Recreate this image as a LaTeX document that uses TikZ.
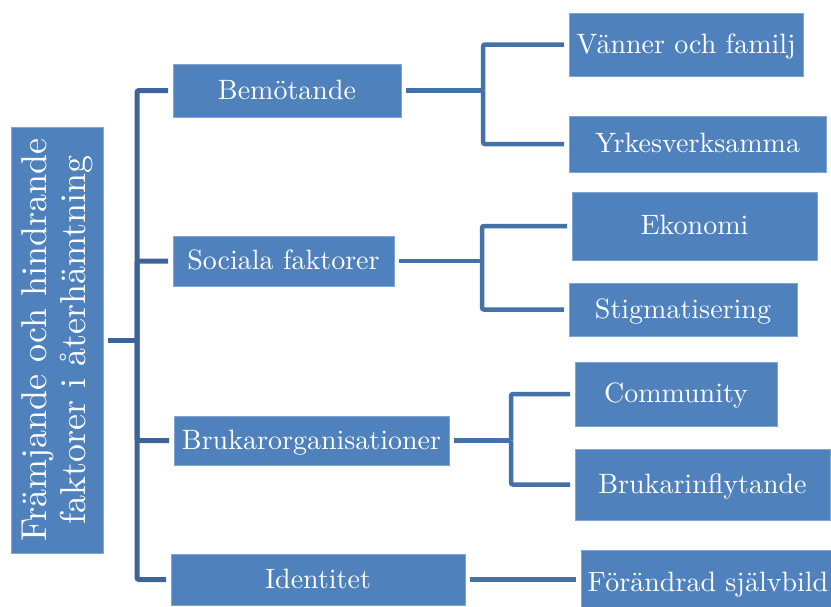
\documentclass[tikz,border=0pt]{standalone}
\usepackage{fontspec}
\setmainfont{lmroman10-regular.otf}
\usepackage{tikz}
\definecolor{boxblue}{RGB}{79,129,189}
\definecolor{edgeblue}{RGB}{128,166,212}
\definecolor{linkblue}{RGB}{68,113,168}
\definecolor{trunkblue}{RGB}{60,100,152}
\tikzset{
    boxbase/.style={draw=edgeblue, line width=0.6pt, fill=boxblue, text=white,
        inner sep=0pt, outer sep=5pt},
    box/.style={boxbase, text height=17pt, text depth=0pt,
        font=\fontsize{28}{34}\selectfont},
    rootbox/.style={boxbase, rotate=90, align=center,
        font=\fontsize{36}{39}\selectfont},
    link/.style={draw=linkblue, line width=4.5pt, rounded corners=2pt},
    trunk/.style={link, draw=trunkblue, line width=5pt},
}

\begin{document}
\begin{tikzpicture}[x=1pt,y=-1pt]
		\useasboundingbox (0,0) rectangle (831,606);
		% The root box
		\node[rootbox, minimum width=426pt, minimum height=92pt] (root) at (57,340)
			{Främjande och hindrande\\faktorer i återhämtning};
		% The first level
		\node[box, minimum width=228pt, minimum height=53pt] (bem) at (287,90.5) {Bemötande};
		\node[box, minimum width=221pt, minimum height=50pt] (soc) at (283.5,261) {Sociala faktorer};
		\node[box, minimum width=275pt, minimum height=49pt] (bruk) at (311.5,440.5) {Brukarorganisationer};
		\node[box, minimum width=294pt, minimum height=51pt] (ident) at (318,579.5) {Identitet};
		% The second level
		\node[box, minimum width=234pt, minimum height=63pt] (van) at (686,44.5) {Vänner och familj};
		\node[box, minimum width=257pt, minimum height=56pt] (yrk) at (697.5,144) {Yrkesverksamma};
		\node[box, minimum width=245pt, minimum height=68pt] (eko) at (694.5,226) {Ekonomi};
		\node[box, minimum width=228pt, minimum height=53pt] (stig) at (683,309.5) {Stigmatisering};
		\node[box, minimum width=202pt, minimum height=64pt] (comm) at (676,394) {Community};
		\node[box, minimum width=255pt, minimum height=71pt] (inf) at (702.5,484.5) {Brukarinflytande};
		\node[box, minimum width=254pt, minimum height=66pt] (self) at (708,583) {Förändrad självbild};
		% The hubs where the lines split
		\coordinate (hub) at ([xshift=29pt]root.south);
		\coordinate (bemhub) at ([xshift=77pt]bem.east);
		\coordinate (sochub) at ([xshift=83pt]soc.east);
		\coordinate (brukhub) at ([xshift=57pt]bruk.east);
		% The main trunk
		\draw[trunk] (root.south) -- (hub);
		\draw[trunk] (hub) |- (bem.west);
		\draw[trunk] (hub) |- (soc.west);
		\draw[trunk] (hub) |- (bruk.west);
		\draw[trunk] (hub) |- (ident.west);
		% Bemötande
		\draw[link] (bem.east) -- (bemhub);
		\draw[link] (bemhub) |- (van.west);
		\draw[link] (bemhub) |- (yrk.west);
		% Sociala faktorer
		\draw[link] (soc.east) -- (sochub);
		\draw[link] (sochub) |- (eko.west);
		\draw[link] (sochub) |- (stig.west);
		% Brukarorganisationer
		\draw[link] (bruk.east) -- (brukhub);
		\draw[link] (brukhub) |- (comm.west);
		\draw[link] (brukhub) |- (inf.west);
		% Identitet
		\draw[link] (ident.east) -- (ident.east -| self.west);
	\end{tikzpicture}
\end{document}
